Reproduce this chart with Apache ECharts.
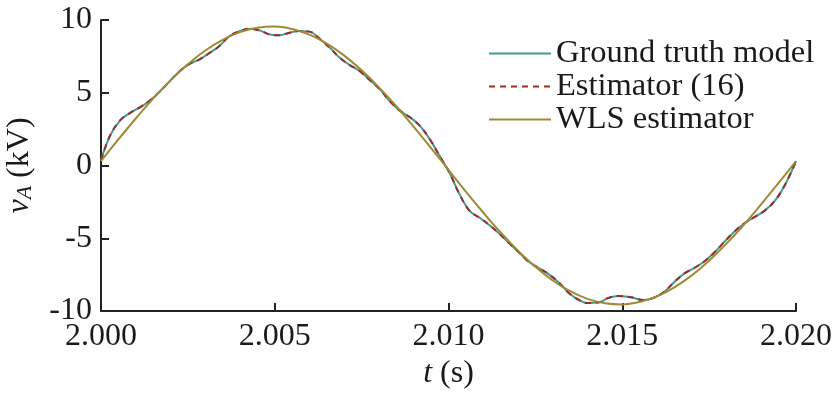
<!DOCTYPE html>
<html>
<head>
<meta charset="utf-8">
<script src="https://cdn.jsdelivr.net/npm/echarts@6/dist/echarts.min.js"></script>
<style>
html,body{margin:0;padding:0;background:#fff;}
#chart{width:836px;height:396px;}
</style>
</head>
<body>
<div id="chart"></div>
<script>
// Ground truth model: time (s) and voltage (kV)
const truthT = [2.0000,2.00026,2.00055,2.00083,2.00112,2.0014,2.0017,2.00198,2.00227,2.00256,2.00284,2.0031,2.0034,2.0037,2.0040,2.0043,2.0046,2.00486,2.0051,2.0054,2.0057,2.0060,2.0063,2.00658,2.00687,2.00716,2.00744,2.0077,2.0080,2.0083,2.0086,2.0089,2.00917,2.00945,2.00974,2.01003,2.0103,2.0106,2.0109,2.01118,2.01147,2.01175,2.01204,2.0123,2.0126,2.0129,2.0132,2.01348,2.01376,2.0140,2.01434,2.0146,2.0149,2.0152,2.01534,2.0156,2.0159,2.0162,2.0165,2.0168,2.01707,2.01736,2.01764,2.0179,2.0182,2.0185,2.0188,2.0191,2.0194,2.0197,2.0200];
const truthV = [0.35,2.05,3.1,3.6,4.0,4.45,5.1,5.8,6.5,7.0,7.3,7.7,8.2,8.9,9.25,9.4,9.25,9.0,8.95,9.1,9.25,9.2,8.7,8.1,7.4,6.9,6.5,5.95,5.3,4.45,3.77,3.3,2.74,1.85,0.68,-0.5,-1.9,-3.1,-3.6,-4.1,-4.7,-5.35,-6.0,-6.6,-7.05,-7.5,-8.1,-8.8,-9.25,-9.45,-9.4,-9.1,-8.97,-9.03,-9.1,-9.25,-9.1,-8.7,-8.0,-7.4,-7.05,-6.6,-6.0,-5.35,-4.6,-4.0,-3.55,-3.1,-2.4,-1.25,0.3];
// Estimator (16): overlaps the ground truth everywhere
const estT = truthT.slice();
const estV = [0.35,2.05,3.1,3.6,4.0,4.45,5.1,5.8,6.5,7.0,7.3,7.7,8.2,8.9,9.25,9.4,9.25,9.0,8.95,9.1,9.25,9.2,8.7,8.1,7.4,6.9,6.5,5.95,5.3,4.45,3.77,3.3,2.74,1.85,0.68,-0.5,-1.9,-3.1,-3.6,-4.1,-4.7,-5.35,-6.0,-6.6,-7.05,-7.5,-8.1,-8.8,-9.25,-9.45,-9.4,-9.1,-8.97,-9.03,-9.1,-9.25,-9.1,-8.7,-8.0,-7.4,-7.05,-6.6,-6.0,-5.35,-4.6,-4.0,-3.55,-3.1,-2.4,-1.25,0.3];
// WLS estimator
const wlsT = [2.0000,2.0005,2.0010,2.0015,2.0020,2.0025,2.0030,2.0035,2.0040,2.0045,2.0050,2.0055,2.0060,2.0065,2.0070,2.0075,2.0080,2.0085,2.0090,2.0095,2.0100,2.0105,2.0110,2.0115,2.0120,2.0125,2.0130,2.0135,2.0140,2.0145,2.0150,2.0155,2.0160,2.0165,2.0170,2.0175,2.0180,2.0185,2.0190,2.0195,2.0200];
const wlsV = [0.30,1.79,3.23,4.60,5.85,6.96,7.90,8.64,9.17,9.47,9.55,9.38,8.99,8.37,7.55,6.54,5.37,4.07,2.66,1.20,-0.30,-1.79,-3.23,-4.60,-5.85,-6.96,-7.90,-8.64,-9.17,-9.47,-9.55,-9.38,-8.99,-8.37,-7.55,-6.54,-5.37,-4.07,-2.66,-1.20,0.30];

const seriesNames = ['Ground truth model', 'Estimator (16)', 'WLS estimator'];
const xTicks = {min: 2.000, max: 2.020, step: 0.005};
const yTicks = {min: -10, max: 10, step: 5};

const zip = (a, b) => a.map((t, i) => [t, b[i]]);
const FONT = '"Liberation Serif", "Times New Roman", serif';
const AX = '#222';
const TXT = '#1a1a1a';

const chart = echarts.init(document.getElementById('chart'), null, {renderer: 'canvas'});
chart.setOption({
  animation: false,
  backgroundColor: '#fff',
  grid: {left: 101, right: 40, top: 20, bottom: 85, containLabel: false, outerBoundsMode: 'none'},
  legend: {
    orient: 'vertical',
    left: 483,
    top: 32,
    itemWidth: 62,
    itemHeight: 10,
    itemGap: 0,
    data: seriesNames,
    itemStyle: {opacity: 0},
    textStyle: {fontFamily: FONT, fontSize: 32.5, color: TXT, lineHeight: 33}
  },
  xAxis: {
    type: 'value',
    min: xTicks.min, max: xTicks.max, interval: xTicks.step,
    name: '{i|t} (s)',
    nameLocation: 'middle',
    nameGap: 46,
    nameTextStyle: {fontFamily: FONT, fontSize: 32, color: TXT,
      rich: {i: {fontFamily: FONT, fontSize: 32, fontStyle: 'italic', color: TXT}}},
    axisLine: {show: true, onZero: false, lineStyle: {color: AX, width: 2}},
    axisTick: {show: true, inside: true, length: 8, lineStyle: {color: AX, width: 2}},
    axisLabel: {fontFamily: FONT, fontSize: 32, color: TXT, margin: 10,
      formatter: v => v.toFixed(3)},
    splitLine: {show: false}
  },
  yAxis: {
    type: 'value',
    min: yTicks.min, max: yTicks.max, interval: yTicks.step,
    name: '{i|v}{sub|A}{n| (kV)}',
    nameLocation: 'middle',
    nameRotate: 90,
    nameGap: 65,
    nameTextStyle: {fontFamily: FONT, fontSize: 32, color: TXT,
      rich: {
        i: {fontFamily: FONT, fontSize: 32, fontStyle: 'italic', color: TXT, lineHeight: 40, verticalAlign: 'bottom'},
        sub: {fontFamily: FONT, fontSize: 22, fontStyle: 'italic', color: TXT, lineHeight: 30, verticalAlign: 'bottom'},
        n: {fontFamily: FONT, fontSize: 32, color: TXT, lineHeight: 40, verticalAlign: 'bottom'}
      }},
    axisLine: {show: true, onZero: false, lineStyle: {color: AX, width: 2}},
    axisTick: {show: true, inside: true, length: 8, lineStyle: {color: AX, width: 2}},
    axisLabel: {fontFamily: FONT, fontSize: 32, color: TXT, margin: 9},
    splitLine: {show: false}
  },
  series: [
    {
      name: seriesNames[0], type: 'line', data: zip(truthT, truthV),
      smooth: 0.4, symbol: 'none', showSymbol: false,
      lineStyle: {color: '#3e9e8e', width: 2}, itemStyle: {color: '#3e9e8e'}
    },
    {
      name: seriesNames[1], type: 'line', data: zip(estT, estV),
      smooth: 0.4, symbol: 'none', showSymbol: false,
      lineStyle: {color: '#9e2a2c', width: 2, type: [6, 5]}, itemStyle: {color: '#9e2a2c'}
    },
    {
      name: seriesNames[2], type: 'line', data: zip(wlsT, wlsV),
      smooth: 0.4, symbol: 'none', showSymbol: false,
      lineStyle: {color: '#a08a36', width: 2}, itemStyle: {color: '#a08a36'}
    }
  ]
});
</script>
</body>
</html>
